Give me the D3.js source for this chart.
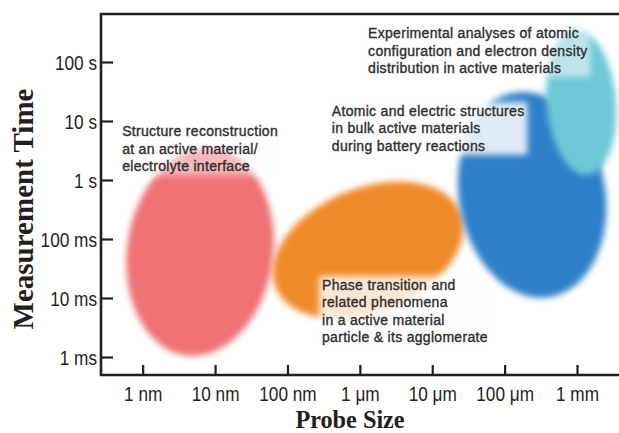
<!DOCTYPE html>
<html>
<head>
<meta charset="utf-8">
<script src="https://cdn.jsdelivr.net/npm/d3@7"></script>
<style>
  body { margin: 0; background: #fff; }
  .tick text { font-family: "Liberation Sans", Arial, sans-serif; font-size: 21px; fill: #231f20; }
  .tick line { stroke: #231f20; stroke-width: 2.2px; }
  .frame { stroke: #231f20; stroke-width: 2.6px; fill: none; }
  .title { font-family: "Liberation Serif", "Times New Roman", serif; font-weight: bold; fill: #231f20; }
  .note { font-family: "Liberation Sans", Arial, sans-serif; font-size: 14px; letter-spacing: 0.3px;
          fill: #2e2e2e; stroke: #2e2e2e; stroke-width: 0.35px; }
</style>
</head>
<body>
<div id="content"></div>
<script>
// axis ticks
var sizeTicks = [1e-9, 1e-8, 1e-7, 1e-6, 1e-5, 1e-4, 1e-3];
var sizeLabels = ["1 nm", "10 nm", "100 nm", "1 \u03bcm", "10 \u03bcm", "100 \u03bcm", "1 mm"];
var timeTicks = [1e-3, 1e-2, 1e-1, 1, 10, 100];
var timeLabels = ["1 ms", "10 ms", "100 ms", "1 s", "10 s", "100 s"];

// regions: center probe size (m), center time (s), half extents in decades, tilt (deg)
var blobNames = ["interface", "particle", "bulk", "atomic"];
var blobSize = [6.2e-9, 1.3e-6, 2.4e-4, 1.14e-3];
var blobTime = [0.06, 0.065, 0.56, 21];
var blobHalfX = [1.01, 1.38, 1.01, 0.48];
var blobHalfY = [1.77, 1.05, 1.76, 1.24];
var blobTilt = [8, -22, -10, -5];
var blobColors = ["#ef7275", "#f08b2c", "#2f80c9", "#6ec8d7"];

// annotations: anchor (size, time) of first line baseline
var noteLines = [
  ["Structure reconstruction", "at an active material/", "electrolyte interface"],
  ["Phase transition and", "related phenomena", "in a active material", "particle & its agglomerate"],
  ["Atomic and electric structures", "in bulk active materials", "during battery reactions"],
  ["Experimental analyses of atomic", "configuration and electron density", "distribution in active materials"]
];
var noteSize = [5.2e-10, 3.0e-7, 4.1e-7, 1.3e-6];
var noteTime = [5.5, 0.0137, 12.2, 255];
var noteBox = [0.5, 0.8, 0.85, 0.55];   // how much the light box hides the blob behind

var width = 619, height = 433;

var x = d3.scaleLog().domain([1e-9, 1e-3]).range([142.7, 577]);
var y = d3.scaleLog().domain([1e-3, 1e2]).range([357, 62]);

var svg = d3.select("#content").append("svg")
  .attr("width", width)
  .attr("height", height);

var defs = svg.append("defs");
defs.append("filter")
  .attr("id", "soft")
  .attr("x", "-20%").attr("y", "-20%")
  .attr("width", "140%").attr("height", "140%")
  .append("feGaussianBlur")
  .attr("stdDeviation", 3);

// blobs
blobNames.forEach(function(name, i) {
  var cx = x(blobSize[i]), cy = y(blobTime[i]);
  var rx = x(blobSize[i] * Math.pow(10, blobHalfX[i])) - cx;
  var ry = cy - y(blobTime[i] * Math.pow(10, blobHalfY[i]));
  svg.append("ellipse")
    .attr("class", "blob " + name)
    .attr("transform", "translate(" + cx + "," + cy + ") rotate(" + blobTilt[i] + ")")
    .attr("rx", rx)
    .attr("ry", ry)
    .attr("fill", blobColors[i])
    .attr("filter", "url(#soft)");
});

// notes with faint white boxes
noteLines.forEach(function(lines, i) {
  var g = svg.append("g")
    .attr("transform", "translate(" + x(noteSize[i]) + "," + y(noteTime[i]) + ")");
  var t = g.append("text").attr("class", "note");
  lines.forEach(function(line, j) {
    t.append("tspan").attr("x", 0).attr("y", j * 17.5).text(line);
  });
  var bb = t.node().getBBox();
  g.insert("rect", "text")
    .attr("x", bb.x - 3).attr("y", bb.y - 1)
    .attr("width", bb.width + 6).attr("height", bb.height + 2)
    .attr("fill", "#fdfdfd")
    .attr("opacity", noteBox[i])
    .attr("filter", "url(#soft)");
});

// axes
var yAxis = svg.append("g")
  .attr("transform", "translate(101,0)")
  .call(d3.axisLeft(y).tickValues(timeTicks)
    .tickFormat(function(d, i) { return timeLabels[i]; })
    .tickSizeInner(-12).tickSizeOuter(0).tickPadding(4));
yAxis.select(".domain").remove();
yAxis.selectAll(".tick text")
  .attr("transform", "scale(0.82,1)")
  .attr("x", -4 / 0.82)
  .attr("dy", "0.35em");

var xAxis = svg.append("g")
  .attr("transform", "translate(0,375)")
  .call(d3.axisBottom(x).tickValues(sizeTicks)
    .tickFormat(function(d, i) { return sizeLabels[i]; })
    .tickSizeInner(-10).tickSizeOuter(0).tickPadding(11));
xAxis.select(".domain").remove();
xAxis.selectAll(".tick text")
  .attr("transform", "scale(0.82,1)");

svg.selectAll(".tick text").attr("font-family", null).attr("font-size", null).attr("fill", null);

// frame: left, top, bottom
svg.append("path")
  .attr("class", "frame")
  .attr("d", "M619,14H101V375H619");

// titles
svg.append("text")
  .attr("class", "title")
  .attr("transform", "translate(33,209) rotate(-90)")
  .attr("text-anchor", "middle")
  .style("font-size", "29px")
  .text("Measurement Time");

svg.append("text")
  .attr("class", "title")
  .attr("transform", "translate(350,427.5) scale(0.97,1)")
  .attr("text-anchor", "middle")
  .style("font-size", "25px")
  .text("Probe Size");
</script>
</body>
</html>
